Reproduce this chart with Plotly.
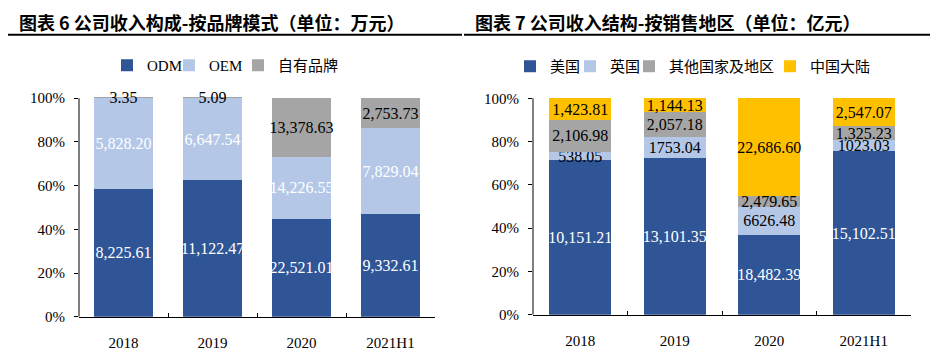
import plotly.graph_objects as go

years = ["2018", "2019", "2020", "2021H1"]

# Left chart: revenue by brand mode (万元)
odm = [8225.61, 11122.47, 22521.01, 9332.61]
oem = [5828.20, 6647.54, 14226.55, 7829.04]
own = [3.35, 5.09, 13378.63, 2753.73]
odm_txt = ["8,225.61", "11,122.47", "22,521.01", "9,332.61"]
oem_txt = ["5,828.20", "6,647.54", "14,226.55", "7,829.04"]
own_txt = ["3.35", "5.09", "13,378.63", "2,753.73"]

# Right chart: revenue by region (亿元)
us = [10151.21, 13101.35, 18482.39, 15102.51]
uk = [538.05, 1753.04, 6626.48, 1023.03]
other = [2106.98, 2057.18, 2479.65, 1325.23]
cn = [1423.81, 1144.13, 22686.60, 2547.07]
us_txt = ["10,151.21", "13,101.35", "18,482.39", "15,102.51"]
uk_txt = ["538.05", "1753.04", "6626.48", "1023.03"]
other_txt = ["2,106.98", "2,057.18", "2,479.65", "1,325.23"]
cn_txt = ["1,423.81", "1,144.13", "22,686.60", "2,547.07"]

pct_ticks = [0, 20, 40, 60, 80, 100]
pct_labels = ["0%", "20%", "40%", "60%", "80%", "100%"]

DARK = "#2F5597"
LIGHT = "#B4C7E7"
GRAY = "#A5A5A5"
GOLD = "#FFC000"
SERIF = "Liberation Serif, Times New Roman, serif"
CJK = "Noto Sans CJK SC"

fig = go.Figure()

def add(name, x, y, txt, color, tcolor, xa, ya, lg, lw):
    fig.add_trace(go.Bar(
        name=name, x=x, y=y, text=txt, textposition="inside",
        insidetextanchor="middle", textangle=0,
        constraintext="none",
        textfont=dict(family=SERIF, size=16, color=tcolor),
        insidetextfont=dict(family=SERIF, size=16, color=tcolor),
        marker=dict(color=color, line=dict(width=0)),
        xaxis=xa, yaxis=ya, legend=lg, legendwidth=lw, hoverinfo="skip",
    ))

add("ODM", years, odm, odm_txt, DARK, "white", "x", "y", "legend", 17)
add("OEM", years, oem, oem_txt, LIGHT, "white", "x", "y", "legend", 24)
add("自有品牌", years, own, own_txt, GRAY, "black", "x", "y", "legend", 60)

add("美国", years, us, us_txt, DARK, "white", "x2", "y2", "legend2", 15)
add("英国", years, uk, uk_txt, LIGHT, "black", "x2", "y2", "legend2", 14)
add("其他国家及地区", years, other, other_txt, GRAY, "black", "x2", "y2", "legend2", 96)
add("中国大陆", years, cn, cn_txt, GOLD, "black", "x2", "y2", "legend2", 62)

H = 357.0
W = 930.0

def py(p):
    return 1 - p / H

def px_(x):
    return x / W

YTOP = 105  # headroom so the labels at the 100% edge are not clipped

xaxis_common = dict(
    showline=True, linecolor="black", linewidth=1,
    ticks="inside", tickson="boundaries", ticklen=4, tickcolor="black",
    ticklabelstandoff=12,
    tickfont=dict(family=SERIF, size=15, color="black"),
    showgrid=False, zeroline=False, fixedrange=True,
)
yaxis_common = dict(
    range=[0, YTOP], tickvals=pct_ticks, ticktext=pct_labels,
    showline=False,
    ticks="outside", ticklen=4, tickcolor="black",
    ticklabelstandoff=6,
    tickfont=dict(family=SERIF, size=15, color="black"),
    showgrid=False, zeroline=False, fixedrange=True,
)

# left: 0% at y=324px, 100% at y=100.5px ; right: 0% at 322px, 100% at 100.5px
l_top = 324 - (324 - 100.5) * YTOP / 100
r_top = 322 - (322 - 100.5) * YTOP / 100

legend_font = dict(family=SERIF + ", " + CJK, size=15, color="black")

fig.update_layout(
    width=930, height=357,
    margin=dict(l=0, r=0, t=0, b=0),
    paper_bgcolor="white", plot_bgcolor="white",
    barmode="stack", barnorm="percent", bargap=0.34,
    font=dict(family=SERIF, size=15, color="black"),
    xaxis=dict(domain=[px_(79), px_(435)], anchor="y", **xaxis_common),
    yaxis=dict(domain=[py(324), py(l_top)], anchor="x", **yaxis_common),
    xaxis2=dict(domain=[px_(533), px_(911)], anchor="y2", **xaxis_common),
    yaxis2=dict(domain=[py(322), py(r_top)], anchor="x2", **yaxis_common),
    legend=dict(orientation="h", x=px_(107), y=py(67), xanchor="left", yanchor="middle",
                font=legend_font, itemwidth=30, bgcolor="rgba(0,0,0,0)",
                traceorder="normal"),
    legend2=dict(orientation="h", x=px_(510), y=py(68), xanchor="left", yanchor="middle",
                 font=legend_font, itemwidth=30, bgcolor="rgba(0,0,0,0)",
                 traceorder="normal"),
    showlegend=True,
)

# vertical axis lines from 0% to 100%
for xr, yr in (("x domain", "y"), ("x2 domain", "y2")):
    fig.add_shape(type="line", xref=xr, yref=yr, x0=0, x1=0,
                  y0=pct_ticks[0], y1=pct_ticks[-1],
                  line=dict(color="black", width=1))

fig.add_annotation(text="<b>图表\u00a06\u00a0公司收入构成-按品牌模式（单位：万元）</b>",
                   x=px_(17), y=py(22), xref="paper", yref="paper",
                   xanchor="left", yanchor="middle", showarrow=False,
                   font=dict(family=CJK, size=18, color="black"))
fig.add_annotation(text="<b>图表\u00a07\u00a0公司收入结构-按销售地区（单位：亿元）</b>",
                   x=px_(473), y=py(22), xref="paper", yref="paper",
                   xanchor="left", yanchor="middle", showarrow=False,
                   font=dict(family=CJK, size=18, color="black"))

fig.add_shape(type="line", xref="paper", yref="paper",
              x0=px_(8), x1=px_(462), y0=py(35.5), y1=py(35.5),
              line=dict(color="black", width=2))
fig.add_shape(type="line", xref="paper", yref="paper",
              x0=px_(464), x1=px_(930), y0=py(35.5), y1=py(35.5),
              line=dict(color="black", width=2))

fig.write_html("out.html", config={"displayModeBar": False},
               post_script="document.body.style.margin='0';document.body.style.overflow='hidden';")
